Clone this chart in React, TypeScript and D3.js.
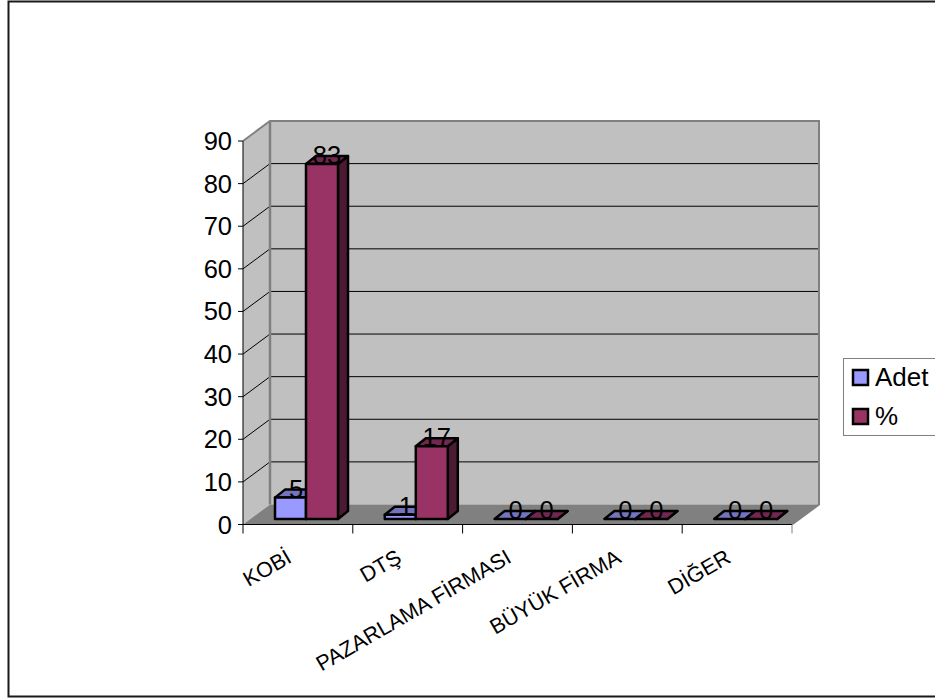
import React from "react";
import * as d3 from "d3";

const categories = ["KOBİ", "DTŞ", "PAZARLAMA FİRMASI", "BÜYÜK FİRMA", "DİĞER"];
const seriesNames = ["Adet", "%"];
const adet = [5, 1, 0, 0, 0];
const yuzde = [83, 17, 0, 0, 0];
const yTicks = [0, 10, 20, 30, 40, 50, 60, 70, 80, 90];

const FONT = "'Liberation Sans', Arial, sans-serif";
const COLORS = { adet: "#9999ff", adetTop: "#7373bf", adetSide: "#4d4d80", pct: "#993366", pctTop: "#732650", pctSide: "#4d1a33" };

// Oblique offset of the back wall and of a bar's depth.
const WALL_DX = 27;
const WALL_DY = -20;
const BAR_DX = 10;
const BAR_DY = -8;

const x = d3.scaleBand<string>().domain(categories).range([243, 792]);
const y = d3.scaleLinear().domain([0, 90]).range([524.5, 141]);
const barY = d3.scaleLinear().domain([0, 90]).range([519, 134]);
const poly = (pts: [number, number][]) => pts.map((p) => p.join(",")).join(" ");

function Bar({ x0, w, value, front, top, side }: { x0: number; w: number; value: number; front: string; top: string; side: string }) {
  const yb = barY(0);
  const yt = barY(value);
  const x1 = x0 + w;
  return (
    <g stroke="#000" strokeWidth={2.5} strokeLinejoin="round">
      <polygon points={poly([[x1, yb], [x1 + BAR_DX, yb + BAR_DY], [x1 + BAR_DX, yt + BAR_DY], [x1, yt]])} fill={side} />
      <polygon points={poly([[x0, yt], [x1, yt], [x1 + BAR_DX, yt + BAR_DY], [x0 + BAR_DX, yt + BAR_DY]])} fill={top} />
      {value > 0 && <rect x={x0} y={yt} width={w} height={yb - yt} fill={front} />}
    </g>
  );
}

export default function App() {
  const y0 = y(0);
  const y90 = y(90);
  const xL = x.range()[0];
  const xR = x.range()[1];
  return (
    <svg width={935} height={698} style={{ position: "absolute", left: 0, top: 0, background: "#fff" }} fontFamily={FONT}>
      <polyline points="936,1.5 8.5,1.5 8.5,696.5 936,696.5" fill="none" stroke="#1a1a1a" strokeWidth={2} />

      {/* walls and floor */}
      <polygon points={poly([[xL, y0], [xL + WALL_DX, y0 + WALL_DY], [xL + WALL_DX, y90 + WALL_DY], [xL, y90]])} fill="#c0c0c0" />
      <rect x={xL + WALL_DX} y={y90 + WALL_DY} width={xR - xL} height={y0 - y90} fill="#c0c0c0" />
      <polygon points={poly([[xL, y0], [xR, y0], [xR + WALL_DX, y0 + WALL_DY], [xL + WALL_DX, y0 + WALL_DY]])} fill="#808080" />

      {/* gridlines across the side and back walls */}
      {yTicks.slice(1, -1).map((t) => (
        <polyline key={t} points={poly([[xL, y(t)], [xL + WALL_DX, y(t) + WALL_DY], [xR + WALL_DX, y(t) + WALL_DY]])} fill="none" stroke="#000" strokeWidth={1} />
      ))}
      <polyline
        points={poly([[xL, y90], [xL + WALL_DX, y90 + WALL_DY], [xR + WALL_DX, y90 + WALL_DY], [xR + WALL_DX, y0 + WALL_DY], [xR, y0]])}
        fill="none" stroke="#808080" strokeWidth={2}
      />
      <line x1={xL + WALL_DX} y1={y90 + WALL_DY} x2={xL + WALL_DX} y2={y0 + WALL_DY} stroke="#808080" strokeWidth={2.5} />

      {/* axes */}
      <line x1={xL} y1={y90} x2={xL} y2={y0} stroke="#000" />
      <line x1={xL} y1={y0} x2={xR} y2={y0} stroke="#000" />
      {yTicks.map((t) => (
        <g key={t}>
          <line x1={xL - 5} x2={xL} y1={y(t)} y2={y(t)} stroke="#000" />
          <text x={xL - 11} y={y(t) + 9} textAnchor="end" fontSize={25.5} fill="#000">{t}</text>
        </g>
      ))}
      {[...categories.map((c) => x(c)!), xR].map((tx, i) => (
        <line key={i} x1={tx} x2={tx} y1={y0} y2={y0 + 9} stroke={i === categories.length ? "#808080" : "#000"} />
      ))}
      {categories.map((c) => (
        <text key={c} transform={`translate(${x(c)! + 50},${y0 + 37}) rotate(-30)`} textAnchor="end" fontSize={21.5} fill="#000">{c}</text>
      ))}

      {/* bars */}
      {categories.map((c, i) => {
        const x0 = x(c)! + 32;
        return (
          <g key={c}>
            <Bar x0={x0} w={31} value={adet[i]} front={COLORS.adet} top={COLORS.adetTop} side={COLORS.adetSide} />
            <Bar x0={x0 + 31} w={32} value={yuzde[i]} front={COLORS.pct} top={COLORS.pctTop} side={COLORS.pctSide} />
            <text x={x0 + 21} y={barY(adet[i])} textAnchor="middle" fontSize={25.5} fill="#000">{adet[i]}</text>
            <text x={x0 + 52} y={barY(yuzde[i])} textAnchor="middle" fontSize={25.5} fill="#000">{yuzde[i]}</text>
          </g>
        );
      })}

      {/* legend */}
      <rect x={843.5} y={358.5} width={100} height={77} fill="#fff" stroke="#808080" strokeWidth={1} />
      {seriesNames.map((s, i) => (
        <g key={s}>
          <rect x={853} y={370 + i * 39} width={15} height={15} fill={i === 0 ? COLORS.adet : COLORS.pct} stroke="#000" strokeWidth={2.5} />
          <text x={875} y={386 + i * 39} fontSize={26} fill="#000">{s}</text>
        </g>
      ))}
    </svg>
  );
}
